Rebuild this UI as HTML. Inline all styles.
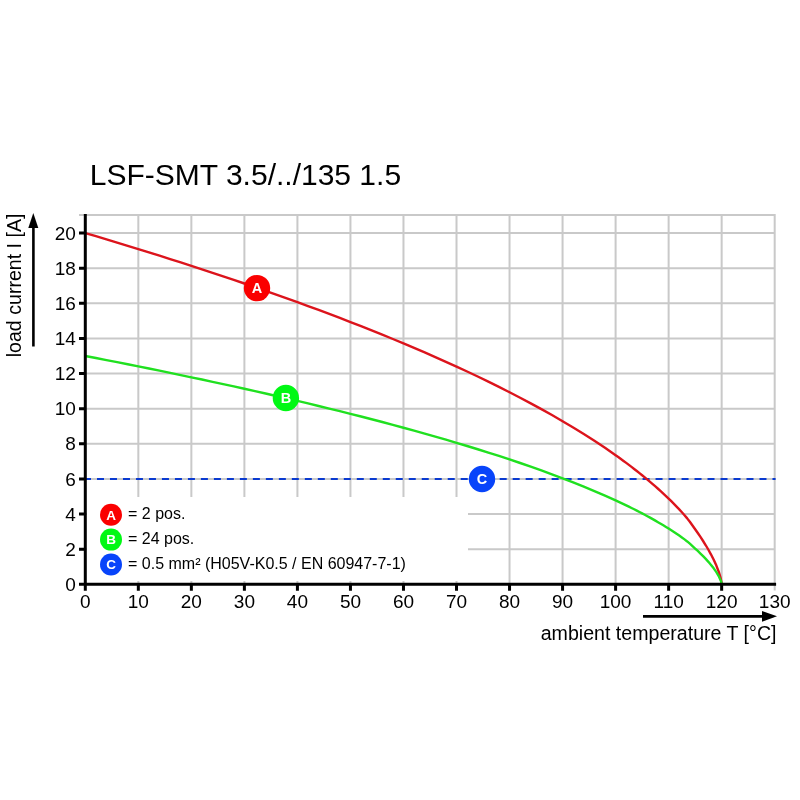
<!DOCTYPE html><html><head><meta charset="utf-8"><style>html,body{margin:0;padding:0;background:#fff;}svg{display:block;will-change:transform;}</style></head><body>
<svg width="800" height="800" viewBox="0 0 800 800" font-family="'Liberation Sans', Arial, sans-serif">
<rect width="800" height="800" fill="#fff"/>
<text x="89.8" y="185" font-size="30" fill="#000">LSF-SMT 3.5/../135 1.5</text>
<path d="M138.33,215V584.27 M191.36,215V584.27 M244.39,215V584.27 M297.42,215V584.27 M350.45,215V584.27 M403.48,215V584.27 M456.51,215V584.27 M509.54,215V584.27 M562.57,215V584.27 M615.60,215V584.27 M668.63,215V584.27 M721.66,215V584.27 M774.69,215V590.57 M79,549.15H775.69 M79,514.03H775.69 M79,478.91H775.69 M79,443.79H775.69 M79,408.67H775.69 M79,373.55H775.69 M79,338.43H775.69 M79,303.31H775.69 M79,268.19H775.69 M79,233.07H775.69 M79,215H775.69" stroke="#c9c9c9" stroke-width="2" fill="none"/>
<rect x="87" y="497" width="381" height="84" fill="#fff"/>
<path d="M84.0,478.91H775.6" stroke="#0a3ad0" stroke-width="2" stroke-dasharray="7.0 5.99" fill="none"/>
<path d="M85.30,233.07 L95.91,236.22 L106.51,239.39 L117.12,242.59 L127.72,245.82 L138.33,249.08 L148.94,252.37 L159.54,255.69 L170.15,259.04 L180.75,262.43 L191.36,265.85 L201.97,269.30 L212.57,272.80 L223.18,276.32 L233.78,279.89 L244.39,283.50 L255.00,287.14 L265.60,290.83 L276.21,294.57 L286.81,298.35 L297.42,302.17 L308.03,306.04 L318.63,309.97 L329.24,313.94 L339.84,317.97 L350.45,322.06 L361.06,326.20 L371.66,330.41 L382.27,334.68 L392.87,339.01 L403.48,343.42 L414.09,347.90 L424.69,352.45 L435.30,357.09 L445.90,361.81 L456.51,366.63 L467.12,371.53 L477.72,376.54 L488.33,381.66 L498.93,386.89 L509.54,392.24 L520.15,397.72 L530.75,403.34 L541.36,409.12 L551.96,415.06 L562.57,421.18 L573.18,427.49 L583.78,434.03 L594.39,440.80 L604.99,447.85 L615.60,455.20 L618.25,457.09 L620.90,459.00 L623.55,460.93 L626.21,462.89 L628.86,464.88 L631.51,466.89 L634.16,468.93 L636.81,471.00 L639.46,473.10 L642.11,475.22 L644.77,477.38 L647.42,479.58 L650.07,481.81 L652.72,484.08 L655.37,486.39 L658.02,488.74 L660.68,491.13 L663.33,493.57 L665.98,496.06 L668.63,498.61 L671.28,501.21 L673.93,503.87 L676.58,506.60 L679.24,509.40 L681.89,512.28 L684.54,515.24 L687.19,518.38 L689.84,521.80 L692.49,525.47 L695.14,529.27 L697.80,533.05 L700.45,536.94 L703.10,541.00 L705.75,545.26 L708.40,549.75 L711.05,554.55 L713.71,559.77 L716.36,565.61 L719.01,572.55 L720.60,577.94 L721.29,581.14 L721.66,584.27" stroke="#dc141c" stroke-width="2.4" fill="none" stroke-linejoin="round"/>
<path d="M85.30,355.99 L95.91,358.03 L106.51,360.10 L117.12,362.18 L127.72,364.28 L138.33,366.39 L148.94,368.53 L159.54,370.69 L170.15,372.87 L180.75,375.07 L191.36,377.30 L201.97,379.54 L212.57,381.81 L223.18,384.11 L233.78,386.42 L244.39,388.77 L255.00,391.14 L265.60,393.54 L276.21,395.96 L286.81,398.42 L297.42,400.90 L308.03,403.42 L318.63,405.97 L329.24,408.56 L339.84,411.18 L350.45,413.83 L361.06,416.53 L371.66,419.26 L382.27,422.03 L392.87,424.85 L403.48,427.72 L414.09,430.63 L424.69,433.59 L435.30,436.60 L445.90,439.67 L456.51,442.80 L467.12,445.99 L477.72,449.25 L488.33,452.57 L498.93,455.97 L509.54,459.45 L520.15,463.01 L530.75,466.67 L541.36,470.42 L551.96,474.28 L562.57,478.26 L573.18,482.37 L583.78,486.61 L594.39,491.02 L604.99,495.59 L615.60,500.37 L618.25,501.60 L620.90,502.84 L623.55,504.10 L626.21,505.38 L628.86,506.67 L631.51,507.97 L634.16,509.30 L636.81,510.64 L639.46,512.01 L642.11,513.39 L644.77,514.79 L647.42,516.22 L650.07,517.67 L652.72,519.14 L655.37,520.65 L658.02,522.17 L660.68,523.73 L663.33,525.32 L665.98,526.93 L668.63,528.59 L671.28,530.28 L673.93,532.01 L676.58,533.78 L679.24,535.60 L681.89,537.48 L684.54,539.40 L687.19,541.44 L689.84,543.66 L692.49,546.05 L695.14,548.52 L697.80,550.98 L700.45,553.51 L703.10,556.15 L705.75,558.91 L708.40,561.83 L711.05,564.95 L713.71,568.35 L716.36,572.14 L719.01,576.65 L720.60,580.15 L721.29,582.24 L721.66,584.27" stroke="#20e020" stroke-width="2.4" fill="none" stroke-linejoin="round"/>
<path d="M85.3,214V590.67 M79,584.27H776.1 M138.33,584.27V590.67 M191.36,584.27V590.67 M244.39,584.27V590.67 M297.42,584.27V590.67 M350.45,584.27V590.67 M403.48,584.27V590.67 M456.51,584.27V590.67 M509.54,584.27V590.67 M562.57,584.27V590.67 M615.60,584.27V590.67 M668.63,584.27V590.67 M721.66,584.27V590.67 M79,549.15H85.3 M79,514.03H85.3 M79,478.91H85.3 M79,443.79H85.3 M79,408.67H85.3 M79,373.55H85.3 M79,338.43H85.3 M79,303.31H85.3 M79,268.19H85.3 M79,233.07H85.3" stroke="#000" stroke-width="3" fill="none"/>
<text x="75.8" y="590.97" font-size="19" text-anchor="end">0</text>
<text x="75.8" y="555.85" font-size="19" text-anchor="end">2</text>
<text x="75.8" y="520.73" font-size="19" text-anchor="end">4</text>
<text x="75.8" y="485.61" font-size="19" text-anchor="end">6</text>
<text x="75.8" y="450.49" font-size="19" text-anchor="end">8</text>
<text x="75.8" y="415.37" font-size="19" text-anchor="end">10</text>
<text x="75.8" y="380.25" font-size="19" text-anchor="end">12</text>
<text x="75.8" y="345.13" font-size="19" text-anchor="end">14</text>
<text x="75.8" y="310.01" font-size="19" text-anchor="end">16</text>
<text x="75.8" y="274.89" font-size="19" text-anchor="end">18</text>
<text x="75.8" y="239.77" font-size="19" text-anchor="end">20</text>
<text x="85.30" y="608.4" font-size="19" text-anchor="middle">0</text>
<text x="138.33" y="608.4" font-size="19" text-anchor="middle">10</text>
<text x="191.36" y="608.4" font-size="19" text-anchor="middle">20</text>
<text x="244.39" y="608.4" font-size="19" text-anchor="middle">30</text>
<text x="297.42" y="608.4" font-size="19" text-anchor="middle">40</text>
<text x="350.45" y="608.4" font-size="19" text-anchor="middle">50</text>
<text x="403.48" y="608.4" font-size="19" text-anchor="middle">60</text>
<text x="456.51" y="608.4" font-size="19" text-anchor="middle">70</text>
<text x="509.54" y="608.4" font-size="19" text-anchor="middle">80</text>
<text x="562.57" y="608.4" font-size="19" text-anchor="middle">90</text>
<text x="615.60" y="608.4" font-size="19" text-anchor="middle">100</text>
<text x="668.63" y="608.4" font-size="19" text-anchor="middle">110</text>
<text x="721.66" y="608.4" font-size="19" text-anchor="middle">120</text>
<text x="774.69" y="608.4" font-size="19" text-anchor="middle">130</text>
<text transform="translate(21,357.3) rotate(-90)" font-size="19.6">load current I [A]</text>
<text x="776.5" y="639.6" font-size="19.6" text-anchor="end">ambient temperature T [°C]</text>
<path d="M33.4,346.5V226" stroke="#000" stroke-width="2.6"/>
<path d="M33.3,212.9L38.3,228L28.3,228Z" fill="#000"/>
<path d="M643,616.4H764" stroke="#000" stroke-width="2.8"/>
<path d="M777,616.3L762,611L762,621.8Z" fill="#000"/>
<circle cx="257" cy="288.1" r="13.2" fill="#fa0000"/><text x="257" y="293.29" font-size="14.5" font-weight="bold" fill="#fff" text-anchor="middle">A</text>
<circle cx="285.9" cy="398" r="13.2" fill="#00f814"/><text x="285.9" y="403.19" font-size="14.5" font-weight="bold" fill="#fff" text-anchor="middle">B</text>
<circle cx="482" cy="479" r="13.2" fill="#0844fa"/><text x="482" y="484.19" font-size="14.5" font-weight="bold" fill="#fff" text-anchor="middle">C</text>
<circle cx="111" cy="514.7" r="11" fill="#fa0000"/><text x="111" y="519.53" font-size="13.5" font-weight="bold" fill="#fff" text-anchor="middle">A</text>
<circle cx="111" cy="539.6" r="11" fill="#00f814"/><text x="111" y="544.43" font-size="13.5" font-weight="bold" fill="#fff" text-anchor="middle">B</text>
<circle cx="111" cy="564.5" r="11" fill="#0844fa"/><text x="111" y="569.33" font-size="13.5" font-weight="bold" fill="#fff" text-anchor="middle">C</text>
<text x="128" y="518.8" font-size="16">= 2 pos.</text>
<text x="128" y="543.9" font-size="16">= 24 pos.</text>
<text x="128" y="569" font-size="16">= 0.5 mm² (H05V-K0.5 / EN 60947-7-1)</text>
</svg></body></html>
